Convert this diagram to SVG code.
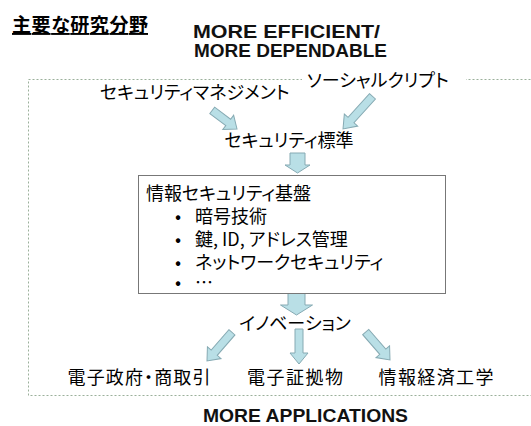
<svg xmlns="http://www.w3.org/2000/svg" width="531" height="426" viewBox="0 0 531 426">
<defs>
<style>
.jp{font-family:"Noto Sans CJK JP","Noto Sans",sans-serif;font-size:18px;fill:#000;font-feature-settings:"palt"}
.en{font-family:"Liberation Sans",Arial,sans-serif;font-size:18px;font-weight:bold;fill:#111}
.arr{fill:#b9dfe6;stroke:#86aab3;stroke-width:1}
.frame{fill:none;stroke:#9bb09b;stroke-width:1;stroke-dasharray:2 2}
</style>
</defs>
<rect width="531" height="426" fill="#fff"/>
<g id="title">
<text class="jp" x="12" y="32" style="font-weight:bold;font-size:19px;text-decoration:underline" textLength="136">主要な研究分野</text>
</g>
<g id="top-label">
<text class="en" x="193" y="38" textLength="187" lengthAdjust="spacingAndGlyphs">MORE EFFICIENT/</text>
<text class="en" x="194" y="57" textLength="193" lengthAdjust="spacingAndGlyphs">MORE DEPENDABLE</text>
</g>
<rect class="frame" x="28.5" y="79.5" width="530" height="316"/>
<g id="connectors">
<path class="arr" d="M-4,-31 L4,-31 L4,-11 L9,-11 L0,0 L-9,-11 L-4,-11 Z" transform="translate(237,129) rotate(-53)"/>
<path class="arr" d="M-4,-44 L4,-44 L4,-12 L9,-12 L0,0 L-9,-12 L-4,-12 Z" transform="translate(343,129) rotate(42)"/>
<path class="arr" d="M-7.5,-20 L7.5,-20 L7.5,-8 L12.5,-8 L0,0 L-12.5,-8 L-7.5,-8 Z" transform="translate(297.5,173)"/>
<path class="arr" d="M-8.5,-22 L8.5,-22 L8.5,-10 L16,-10 L0,0 L-16,-10 L-8.5,-10 Z" transform="translate(296.5,315)"/>
<path class="arr" d="M-4,-38 L4,-38 L4,-11 L9,-11 L0,0 L-9,-11 L-4,-11 Z" transform="translate(207,361) rotate(41)"/>
<path class="arr" d="M-4,-35 L4,-35 L4,-11 L9,-11 L0,0 L-9,-11 L-4,-11 Z" transform="translate(299,364)"/>
<path class="arr" d="M-4,-37 L4,-37 L4,-11 L9,-11 L0,0 L-9,-11 L-4,-11 Z" transform="translate(390,360) rotate(-41)"/>
</g>
<g id="social">
<rect x="302" y="70" width="164" height="20" fill="#fff"/>
<text class="jp" x="307" y="87">ソーシャルクリプト</text>
</g>
<g id="mgmt">
<text class="jp" x="100" y="99">セキュリティマネジメント</text>
</g>
<g id="standard">
<text class="jp" x="289" y="147" text-anchor="middle">セキュリティ標準</text>
</g>
<g id="infra">
<rect x="138.5" y="175.5" width="307" height="118" fill="#fff" stroke="#777" stroke-width="1"/>
<text class="jp"><tspan x="146" y="200">情報セキュリティ基盤</tspan><tspan x="175" y="223">•</tspan><tspan x="195" y="223">暗号技術</tspan><tspan x="175" y="246">•</tspan><tspan x="195" y="246">鍵, ID, アドレス管理</tspan><tspan x="175" y="269">•</tspan><tspan x="195" y="269">ネットワークセキュリティ</tspan><tspan x="175" y="289">•</tspan><tspan x="195" y="289">…</tspan></text>
</g>
<g id="innovation">
<text class="jp" x="295" y="330" text-anchor="middle">イノベーション</text>
</g>
<g id="egov">
<text class="jp" x="139" y="384" text-anchor="middle" textLength="143">電子政府・商取引</text>
</g>
<g id="evidence">
<text class="jp" x="295" y="384" text-anchor="middle" textLength="96">電子証拠物</text>
</g>
<g id="infoecon">
<text class="jp" x="436" y="384" text-anchor="middle" textLength="115">情報経済工学</text>
</g>
<g id="bottom-label">
<text class="en" x="203" y="422" textLength="205" lengthAdjust="spacingAndGlyphs">MORE APPLICATIONS</text>
</g>
</svg>
